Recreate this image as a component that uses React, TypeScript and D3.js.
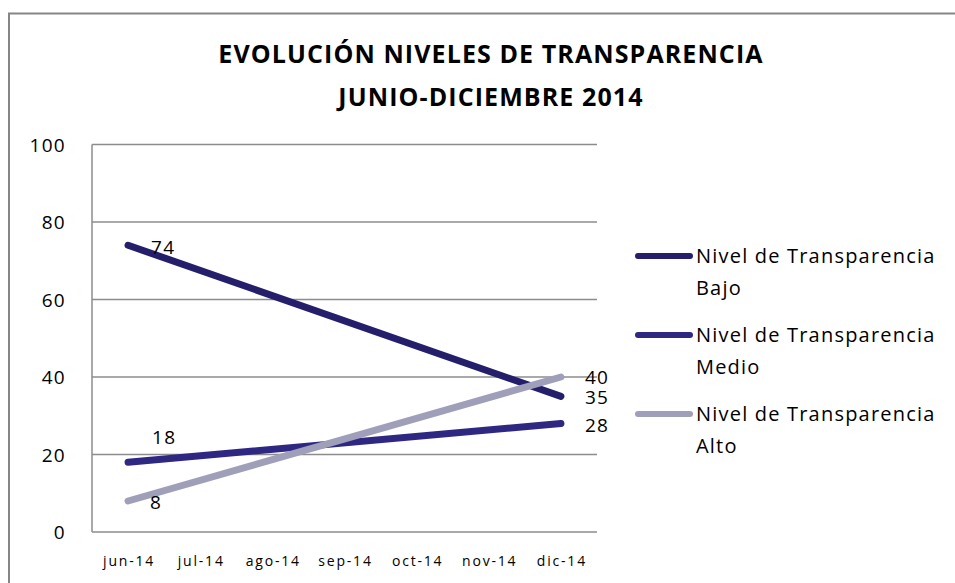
import React from "react";
import * as d3 from "d3";

const months = ["jun-14", "jul-14", "ago-14", "sep-14", "oct-14", "nov-14", "dic-14"];
const bajo = [74, null, null, null, null, null, 35];
const medio = [18, null, null, null, null, null, 28];
const alto = [8, null, null, null, null, null, 40];
const yTicks = [0, 20, 40, 60, 80, 100];
const titleLines = ["EVOLUCIÓN NIVELES DE TRANSPARENCIA", "JUNIO-DICIEMBRE 2014"];

const series = [
  { name: "Nivel de Transparencia", sub: "Bajo", values: bajo, color: "#241e6b" },
  { name: "Nivel de Transparencia", sub: "Medio", values: medio, color: "#2e2883" },
  { name: "Nivel de Transparencia", sub: "Alto", values: alto, color: "#a09fb9" },
];

// label offsets for first / last point of each series
const labelOffsets = [
  { first: [23, 9], last: [24, 8] },
  { first: [24, -18], last: [24, 8] },
  { first: [22, 8], last: [24, 7] },
];

const W = 955;
const H = 583;
const font = "'Open Sans', sans-serif";

export default function App() {
  const left = 92, right = 597, top = 144.5, bottom = 532;
  const x = d3.scaleBand<string>().domain(months).range([left, right]);
  const y = d3.scaleLinear().domain([0, 100]).range([bottom, top]);
  const cx = (m: string) => (x(m) as number) + x.bandwidth() / 2;

  const line = d3
    .line<{ m: string; v: number | null }>()
    .x((d) => cx(d.m))
    .y((d) => y(d.v as number));

  return (
    <svg width={W} height={H} style={{ position: "absolute", left: 0, top: 0 }}>
      <rect x={0} y={0} width={W} height={H} fill="#fff" />
      <rect x={9} y={13.5} width={W + 10} height={H + 10} fill="none" stroke="#868686" strokeWidth={2} />

      {titleLines.map((t, i) => (
        <text key={t} x={491} y={63 + i * 43} textAnchor="middle" fontFamily={font}
          fontWeight="bold" fontSize={25} letterSpacing={1.1} fill="#000">{t}</text>
      ))}

      {yTicks.map((t) => (
        <g key={t}>
          {t > 0 && <line x1={left} x2={right} y1={y(t)} y2={y(t)} stroke="#8c8c8c" strokeWidth={1.3} />}
          <text x={66} y={y(t) + 7} textAnchor="end" fontFamily={font} fontSize={19}
            letterSpacing={1.3} fill="#000">{t}</text>
        </g>
      ))}
      <line x1={left} x2={left} y1={top} y2={bottom} stroke="#8c8c8c" strokeWidth={1.5} />
      <line x1={left} x2={right} y1={bottom} y2={bottom} stroke="#8c8c8c" strokeWidth={1.5} />

      {months.map((m) => (
        <text key={m} x={cx(m) + 1} y={566} textAnchor="middle" fontFamily={font} fontSize={14}
          letterSpacing={1.8} fill="#000">{m}</text>
      ))}

      {series.map((s, i) => {
        const pts = months.map((m, j) => ({ m, v: s.values[j] })).filter((d) => d.v != null);
        const first = pts[0];
        const last = pts[pts.length - 1];
        const off = labelOffsets[i];
        return (
          <g key={s.sub}>
            <path d={line(pts) as string} fill="none" stroke={s.color} strokeWidth={7} strokeLinecap="round" />
            <text x={cx(first.m) + off.first[0]} y={y(first.v as number) + off.first[1]} textAnchor="start"
              fontFamily={font} fontSize={19} letterSpacing={1.3} fill="#000">{first.v}</text>
            <text x={cx(last.m) + off.last[0]} y={y(last.v as number) + off.last[1]} textAnchor="start"
              fontFamily={font} fontSize={19} letterSpacing={1.3} fill="#000">{last.v}</text>
          </g>
        );
      })}

      {series.map((s, i) => {
        const ly = 256 + i * 79;
        return (
          <g key={"lg" + s.sub}>
            <line x1={638} x2={690} y1={ly} y2={ly} stroke={s.color} strokeWidth={6} strokeLinecap="round" />
            <text x={696} y={ly + 7} fontFamily={font} fontSize={20} letterSpacing={1.2} fill="#000">{s.name}</text>
            <text x={696} y={ly + 39} fontFamily={font} fontSize={20} letterSpacing={1.2} fill="#000">{s.sub}</text>
          </g>
        );
      })}
    </svg>
  );
}
